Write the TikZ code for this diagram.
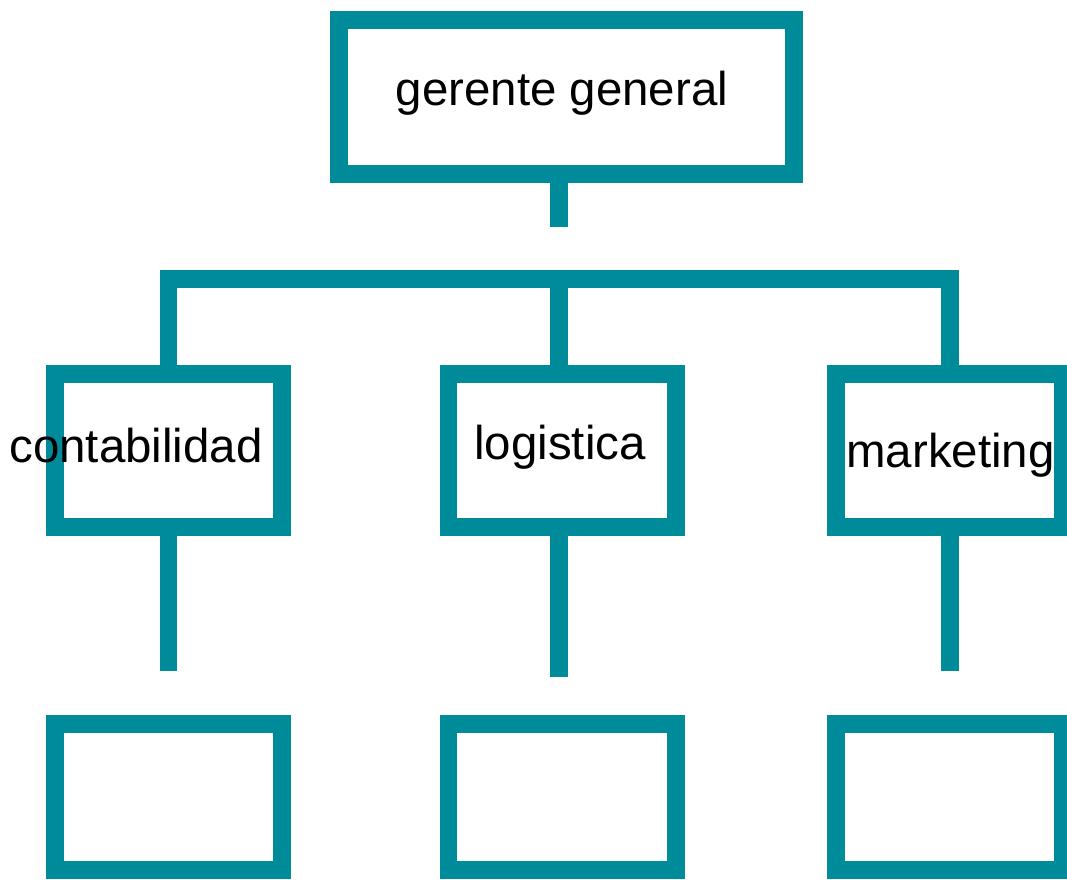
\documentclass[tikz,border=0pt]{standalone}
\usepackage{fontspec}
\setmainfont{Liberation Sans}
\definecolor{orgteal}{RGB}{0,139,155}

\begin{document}
\begin{tikzpicture}[
        box/.style={draw=orgteal, line width=0.18cm, inner sep=0pt, minimum width=2.27cm, minimum height=1.53cm},
        link/.style={draw=orgteal, line width=0.18cm, line join=miter},
        boxtext/.style={anchor=base, font=\fontsize{13.5}{16}\selectfont}
    ]
            \useasboundingbox (0,0) rectangle (10.67,-8.79);

            % Boxes:
            \node [box, minimum width=4.55cm, minimum height=1.54cm] (gerente) at (5.665,-0.97) {};
            \node [box] (conta) at (1.685,-4.505) {};
            \node [box] (logis) at (5.62,-4.505) {};
            \node [box] (market) at (9.495,-4.505) {};
            \node [box, minimum height=1.46cm] (conta2) at (1.685,-7.97) {};
            \node [box, minimum height=1.46cm] (logis2) at (5.62,-7.97) {};
            \node [box, minimum height=1.46cm] (market2) at (9.495,-7.97) {};

            % Lines:
            \coordinate (stem) at (5.59,-2.27);
            \coordinate (bar) at (5.59,-2.79);
            \draw [link] (stem |- gerente.south) -- (stem);
            \draw [link] (conta.north) |- (bar) -| (market.north);
            \draw [link] (bar) -- (bar |- logis.north);
            \coordinate (conta end) at (1.685,-6.71);
            \coordinate (logis end) at (5.59,-6.77);
            \coordinate (market end) at (9.495,-6.71);
            \draw [link] (conta.south) -- (conta end);
            \draw [link] (logis end |- logis.south) -- (logis end);
            \draw [link] (market.south) -- (market end);

            % Labels:
            \node [boxtext] (t gerente) at (5.62,-1.05) {gerente general};
            \node [boxtext] (t conta) at (1.36,-4.62) {contabilidad};
            \node [boxtext] (t logis) at (5.60,-4.59) {logistica};
            \node [boxtext] (t market) at (9.505,-4.67) {marketing};
        \end{tikzpicture}
\end{document}
